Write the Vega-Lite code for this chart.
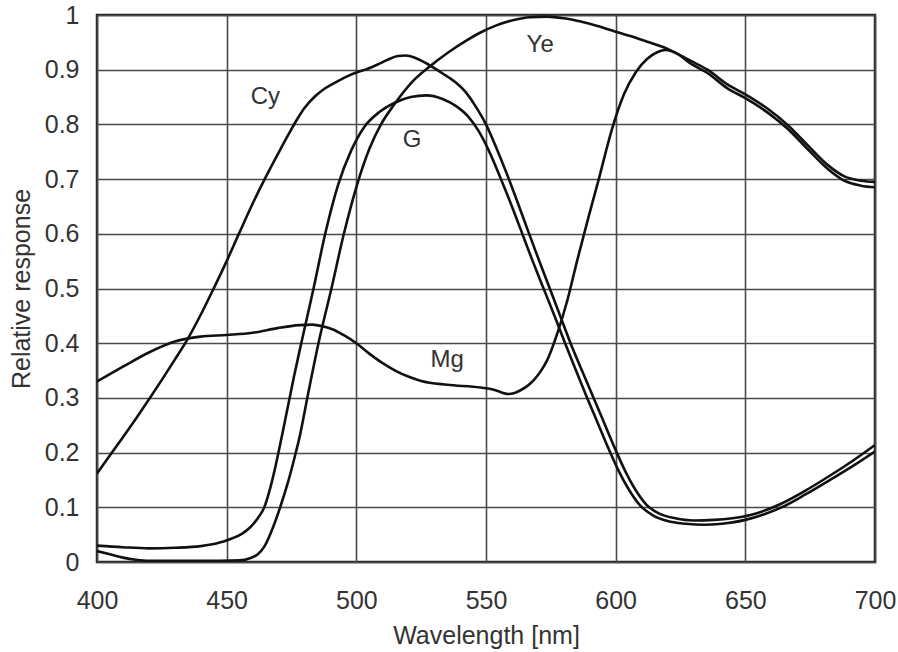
{
  "$schema": "https://vega.github.io/schema/vega-lite/v6.json",
  "width": 778,
  "height": 547,
  "autosize": {"type": "none"},
  "padding": {"left": 97, "top": 15, "right": 23, "bottom": 90},
  "background": "white",
  "config": {
    "view": {"stroke": "#222", "strokeWidth": 2.5},
    "font": "Liberation Sans",
    "axis": {
      "grid": true, "gridColor": "#4a4a4a", "gridWidth": 1.6, "gridOpacity": 1,
      "domain": false, "ticks": false, "tickSize": 0, "labelFlush": false, "labelOverlap": false,
      "labelFontSize": 25, "labelColor": "#333", "labelFont": "Liberation Sans",
      "titleFontSize": 25, "titleColor": "#333", "titleFontWeight": "normal", "titleFont": "Liberation Sans"
    }
  },
  "datasets": {
    "curves": [
      {"s": "Cy", "x": 400, "y": 0.162}, {"s": "Cy", "x": 405, "y": 0.195}, {"s": "Cy", "x": 410, "y": 0.228},
      {"s": "Cy", "x": 415, "y": 0.262}, {"s": "Cy", "x": 420, "y": 0.297}, {"s": "Cy", "x": 425, "y": 0.333},
      {"s": "Cy", "x": 430, "y": 0.37}, {"s": "Cy", "x": 435, "y": 0.408}, {"s": "Cy", "x": 440, "y": 0.452},
      {"s": "Cy", "x": 445, "y": 0.5}, {"s": "Cy", "x": 450, "y": 0.55}, {"s": "Cy", "x": 455, "y": 0.603},
      {"s": "Cy", "x": 460, "y": 0.655}, {"s": "Cy", "x": 465, "y": 0.703}, {"s": "Cy", "x": 470, "y": 0.748},
      {"s": "Cy", "x": 474, "y": 0.783}, {"s": "Cy", "x": 477, "y": 0.808}, {"s": "Cy", "x": 480, "y": 0.83},
      {"s": "Cy", "x": 484, "y": 0.851}, {"s": "Cy", "x": 488, "y": 0.866}, {"s": "Cy", "x": 492, "y": 0.877},
      {"s": "Cy", "x": 496, "y": 0.887}, {"s": "Cy", "x": 500, "y": 0.895}, {"s": "Cy", "x": 504, "y": 0.901},
      {"s": "Cy", "x": 508, "y": 0.909}, {"s": "Cy", "x": 512, "y": 0.918}, {"s": "Cy", "x": 516, "y": 0.925},
      {"s": "Cy", "x": 519, "y": 0.926}, {"s": "Cy", "x": 523, "y": 0.921}, {"s": "Cy", "x": 528, "y": 0.909},
      {"s": "Cy", "x": 533, "y": 0.894}, {"s": "Cy", "x": 538, "y": 0.878}, {"s": "Cy", "x": 542, "y": 0.86},
      {"s": "Cy", "x": 546, "y": 0.833}, {"s": "Cy", "x": 550, "y": 0.8}, {"s": "Cy", "x": 554, "y": 0.757},
      {"s": "Cy", "x": 558, "y": 0.71}, {"s": "Cy", "x": 562, "y": 0.66}, {"s": "Cy", "x": 566, "y": 0.608},
      {"s": "Cy", "x": 570, "y": 0.557}, {"s": "Cy", "x": 574.6, "y": 0.5}, {"s": "Cy", "x": 578.6, "y": 0.45},
      {"s": "Cy", "x": 582.6, "y": 0.4}, {"s": "Cy", "x": 587, "y": 0.35}, {"s": "Cy", "x": 591.5, "y": 0.3},
      {"s": "Cy", "x": 595.5, "y": 0.255}, {"s": "Cy", "x": 599.5, "y": 0.21}, {"s": "Cy", "x": 603.5, "y": 0.168},
      {"s": "Cy", "x": 607.5, "y": 0.133}, {"s": "Cy", "x": 612, "y": 0.104}, {"s": "Cy", "x": 617, "y": 0.088},
      {"s": "Cy", "x": 623, "y": 0.08}, {"s": "Cy", "x": 630, "y": 0.076}, {"s": "Cy", "x": 638, "y": 0.077},
      {"s": "Cy", "x": 645, "y": 0.08}, {"s": "Cy", "x": 652, "y": 0.086}, {"s": "Cy", "x": 658, "y": 0.095},
      {"s": "Cy", "x": 664, "y": 0.107}, {"s": "Cy", "x": 673, "y": 0.13}, {"s": "Cy", "x": 683, "y": 0.159},
      {"s": "Cy", "x": 692, "y": 0.187}, {"s": "Cy", "x": 700, "y": 0.214},

      {"s": "G", "x": 400, "y": 0.03}, {"s": "G", "x": 410, "y": 0.027}, {"s": "G", "x": 420, "y": 0.025},
      {"s": "G", "x": 430, "y": 0.026}, {"s": "G", "x": 440, "y": 0.029}, {"s": "G", "x": 447, "y": 0.035},
      {"s": "G", "x": 452, "y": 0.043}, {"s": "G", "x": 456, "y": 0.052}, {"s": "G", "x": 459, "y": 0.063},
      {"s": "G", "x": 462, "y": 0.08}, {"s": "G", "x": 464.5, "y": 0.1}, {"s": "G", "x": 466.5, "y": 0.13},
      {"s": "G", "x": 468.5, "y": 0.168}, {"s": "G", "x": 470.5, "y": 0.212}, {"s": "G", "x": 473, "y": 0.27},
      {"s": "G", "x": 476, "y": 0.34}, {"s": "G", "x": 479, "y": 0.405}, {"s": "G", "x": 483.5, "y": 0.5},
      {"s": "G", "x": 488, "y": 0.6}, {"s": "G", "x": 493, "y": 0.69}, {"s": "G", "x": 498, "y": 0.752},
      {"s": "G", "x": 503, "y": 0.795}, {"s": "G", "x": 509, "y": 0.823}, {"s": "G", "x": 515, "y": 0.84},
      {"s": "G", "x": 521, "y": 0.85}, {"s": "G", "x": 527, "y": 0.853}, {"s": "G", "x": 533, "y": 0.847},
      {"s": "G", "x": 538.9, "y": 0.832}, {"s": "G", "x": 543.4, "y": 0.813}, {"s": "G", "x": 547, "y": 0.789},
      {"s": "G", "x": 551, "y": 0.753}, {"s": "G", "x": 555.5, "y": 0.703}, {"s": "G", "x": 560, "y": 0.65},
      {"s": "G", "x": 564, "y": 0.6}, {"s": "G", "x": 568, "y": 0.55}, {"s": "G", "x": 572.2, "y": 0.5},
      {"s": "G", "x": 576.4, "y": 0.45}, {"s": "G", "x": 580.5, "y": 0.4}, {"s": "G", "x": 584.7, "y": 0.35},
      {"s": "G", "x": 589, "y": 0.3}, {"s": "G", "x": 593, "y": 0.255}, {"s": "G", "x": 597, "y": 0.21},
      {"s": "G", "x": 601, "y": 0.168}, {"s": "G", "x": 605, "y": 0.133}, {"s": "G", "x": 609.5, "y": 0.103},
      {"s": "G", "x": 614.5, "y": 0.085}, {"s": "G", "x": 620, "y": 0.075}, {"s": "G", "x": 627, "y": 0.07},
      {"s": "G", "x": 634, "y": 0.068}, {"s": "G", "x": 641, "y": 0.07}, {"s": "G", "x": 650, "y": 0.077},
      {"s": "G", "x": 657, "y": 0.087}, {"s": "G", "x": 664, "y": 0.1}, {"s": "G", "x": 673, "y": 0.123},
      {"s": "G", "x": 683, "y": 0.151}, {"s": "G", "x": 692, "y": 0.177}, {"s": "G", "x": 700, "y": 0.202},

      {"s": "Ye", "x": 400, "y": 0.02}, {"s": "Ye", "x": 405, "y": 0.014}, {"s": "Ye", "x": 410, "y": 0.008},
      {"s": "Ye", "x": 415, "y": 0.004}, {"s": "Ye", "x": 420, "y": 0.002}, {"s": "Ye", "x": 440, "y": 0.002},
      {"s": "Ye", "x": 455, "y": 0.003}, {"s": "Ye", "x": 459, "y": 0.007}, {"s": "Ye", "x": 462, "y": 0.014},
      {"s": "Ye", "x": 464.5, "y": 0.028}, {"s": "Ye", "x": 468, "y": 0.065}, {"s": "Ye", "x": 470.7, "y": 0.101},
      {"s": "Ye", "x": 473.9, "y": 0.15}, {"s": "Ye", "x": 476.5, "y": 0.197}, {"s": "Ye", "x": 478, "y": 0.226},
      {"s": "Ye", "x": 481.5, "y": 0.31}, {"s": "Ye", "x": 485.4, "y": 0.4}, {"s": "Ye", "x": 490.4, "y": 0.5},
      {"s": "Ye", "x": 495.2, "y": 0.6}, {"s": "Ye", "x": 500.3, "y": 0.69}, {"s": "Ye", "x": 505, "y": 0.755},
      {"s": "Ye", "x": 509.5, "y": 0.8}, {"s": "Ye", "x": 514.4, "y": 0.835}, {"s": "Ye", "x": 522, "y": 0.88},
      {"s": "Ye", "x": 528.6, "y": 0.907}, {"s": "Ye", "x": 535, "y": 0.93}, {"s": "Ye", "x": 542.7, "y": 0.954},
      {"s": "Ye", "x": 547.9, "y": 0.968}, {"s": "Ye", "x": 554, "y": 0.981}, {"s": "Ye", "x": 560.7, "y": 0.991},
      {"s": "Ye", "x": 567, "y": 0.996}, {"s": "Ye", "x": 573.6, "y": 0.997}, {"s": "Ye", "x": 580, "y": 0.994},
      {"s": "Ye", "x": 586.5, "y": 0.988}, {"s": "Ye", "x": 593, "y": 0.98}, {"s": "Ye", "x": 599.7, "y": 0.97},
      {"s": "Ye", "x": 606, "y": 0.961}, {"s": "Ye", "x": 612.2, "y": 0.951}, {"s": "Ye", "x": 620, "y": 0.938},
      {"s": "Ye", "x": 629, "y": 0.916}, {"s": "Ye", "x": 635.4, "y": 0.9}, {"s": "Ye", "x": 643.1, "y": 0.873},
      {"s": "Ye", "x": 650, "y": 0.855}, {"s": "Ye", "x": 658.5, "y": 0.829}, {"s": "Ye", "x": 666.3, "y": 0.799},
      {"s": "Ye", "x": 674, "y": 0.762}, {"s": "Ye", "x": 681.7, "y": 0.726}, {"s": "Ye", "x": 688.2, "y": 0.705},
      {"s": "Ye", "x": 694.6, "y": 0.697}, {"s": "Ye", "x": 700, "y": 0.695},

      {"s": "Mg", "x": 400, "y": 0.33}, {"s": "Mg", "x": 410, "y": 0.357}, {"s": "Mg", "x": 420, "y": 0.383},
      {"s": "Mg", "x": 430, "y": 0.403}, {"s": "Mg", "x": 440, "y": 0.412}, {"s": "Mg", "x": 450, "y": 0.415},
      {"s": "Mg", "x": 460, "y": 0.419}, {"s": "Mg", "x": 470, "y": 0.428}, {"s": "Mg", "x": 478, "y": 0.433},
      {"s": "Mg", "x": 483, "y": 0.434}, {"s": "Mg", "x": 487, "y": 0.431}, {"s": "Mg", "x": 491, "y": 0.425},
      {"s": "Mg", "x": 495, "y": 0.415}, {"s": "Mg", "x": 500, "y": 0.4}, {"s": "Mg", "x": 505, "y": 0.381},
      {"s": "Mg", "x": 510, "y": 0.364}, {"s": "Mg", "x": 515, "y": 0.35}, {"s": "Mg", "x": 520, "y": 0.339},
      {"s": "Mg", "x": 525, "y": 0.331}, {"s": "Mg", "x": 535, "y": 0.324}, {"s": "Mg", "x": 547.9, "y": 0.319},
      {"s": "Mg", "x": 553, "y": 0.315}, {"s": "Mg", "x": 556, "y": 0.31}, {"s": "Mg", "x": 558.8, "y": 0.307},
      {"s": "Mg", "x": 561, "y": 0.309}, {"s": "Mg", "x": 563.3, "y": 0.314}, {"s": "Mg", "x": 566, "y": 0.322},
      {"s": "Mg", "x": 568.5, "y": 0.333}, {"s": "Mg", "x": 571, "y": 0.348}, {"s": "Mg", "x": 573.6, "y": 0.369},
      {"s": "Mg", "x": 577.5, "y": 0.418}, {"s": "Mg", "x": 581.4, "y": 0.479}, {"s": "Mg", "x": 585.2, "y": 0.552},
      {"s": "Mg", "x": 589.5, "y": 0.63}, {"s": "Mg", "x": 593.5, "y": 0.7}, {"s": "Mg", "x": 598.5, "y": 0.79},
      {"s": "Mg", "x": 603.2, "y": 0.855}, {"s": "Mg", "x": 607.7, "y": 0.895}, {"s": "Mg", "x": 612.2, "y": 0.92},
      {"s": "Mg", "x": 616, "y": 0.932}, {"s": "Mg", "x": 619.3, "y": 0.936}, {"s": "Mg", "x": 623.8, "y": 0.929},
      {"s": "Mg", "x": 629, "y": 0.911}, {"s": "Mg", "x": 635.4, "y": 0.894}, {"s": "Mg", "x": 643.1, "y": 0.866},
      {"s": "Mg", "x": 650, "y": 0.848}, {"s": "Mg", "x": 658.5, "y": 0.822}, {"s": "Mg", "x": 666.3, "y": 0.792},
      {"s": "Mg", "x": 674, "y": 0.755}, {"s": "Mg", "x": 681.7, "y": 0.719}, {"s": "Mg", "x": 688.2, "y": 0.697},
      {"s": "Mg", "x": 694.6, "y": 0.688}, {"s": "Mg", "x": 700, "y": 0.685}
    ],
    "labels": [
      {"t": "Cy", "x": 464.9, "y": 0.85},
      {"t": "G", "x": 521.5, "y": 0.771},
      {"t": "Ye", "x": 570.9, "y": 0.945},
      {"t": "Mg", "x": 535, "y": 0.369}
    ]
  },
  "layer": [
    {
      "data": {"name": "curves"},
      "mark": {"type": "line", "interpolate": "monotone", "color": "#111", "strokeWidth": 2.6, "clip": true},
      "encoding": {
        "x": {
          "field": "x", "type": "quantitative",
          "scale": {"domain": [400, 700], "nice": false, "zero": false},
          "axis": {"values": [400, 450, 500, 550, 600, 650, 700], "format": "d", "labelPadding": 26, "title": "Wavelength [nm]", "titlePadding": 10}
        },
        "y": {
          "field": "y", "type": "quantitative",
          "scale": {"domain": [0, 1], "nice": false},
          "axis": {"values": [0, 0.1, 0.2, 0.3, 0.4, 0.5, 0.6, 0.7, 0.8, 0.9, 1], "labelExpr": "format(datum.value, '~g')", "labelPadding": 18, "title": "Relative response", "titlePadding": 10}
        },
        "detail": {"field": "s", "type": "nominal"}
      }
    },
    {
      "data": {"name": "labels"},
      "mark": {"type": "text", "fontSize": 24, "color": "#333", "font": "Liberation Sans"},
      "encoding": {
        "x": {"field": "x", "type": "quantitative"},
        "y": {"field": "y", "type": "quantitative"},
        "text": {"field": "t", "type": "nominal"}
      }
    }
  ]
}
